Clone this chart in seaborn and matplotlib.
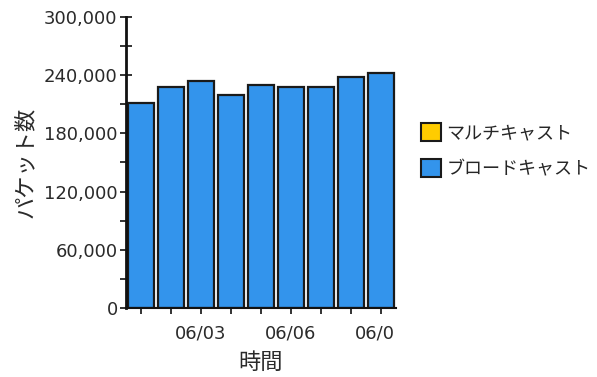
import matplotlib
matplotlib.use("Agg")
import matplotlib.pyplot as plt
import matplotlib.ticker as mticker
import matplotlib.transforms as mtransforms
from matplotlib.patches import Patch
import seaborn as sns
import pandas as pd

# data
dates = ["06/01", "06/02", "06/03", "06/04", "06/05", "06/06", "06/07", "06/08", "06/09"]
broadcast = [211000, 227500, 233700, 219600, 229900, 227500, 227500, 238000, 242000]
multicast = [0, 0, 0, 0, 0, 0, 0, 0, 0]
series_names = ["マルチキャスト", "ブロードキャスト"]
series_colors = ["#FFCC00", "#3394EC"]
y_ticks = [0, 60000, 120000, 180000, 240000, 300000]

sns.set_style("white")
plt.rcParams["font.family"] = ["DejaVu Sans", "Noto Sans CJK JP"]
jp_font = ["Noto Sans CJK JP", "DejaVu Sans"]

df = pd.DataFrame({"date": dates, "broadcast": broadcast, "multicast": multicast})

fig = plt.figure(figsize=(5.97, 3.77), dpi=100)
ax = fig.add_axes([0.211, 0.183, 0.452, 0.772])

sns.barplot(data=df, x="date", y="broadcast", color=series_colors[1],
            saturation=1, width=0.87, edgecolor="#1a1a1a", linewidth=1.6, ax=ax)

ax.set_xlim(-0.5, len(dates) - 0.5)
ax.set_ylim(0, 300000)
ax.set_yticks(y_ticks)
ax.yaxis.set_major_formatter(mticker.FuncFormatter(lambda v, p: f"{int(v):,}"))
ax.yaxis.set_minor_locator(mticker.MultipleLocator(30000))

ax.set_xticks(range(len(dates)))
ax.set_xticklabels([d if i % 3 == 2 else "" for i, d in enumerate(dates)])
# last date label is cut off at the right edge of the plot area, as in the original
clip = mtransforms.TransformedBbox(
    mtransforms.Bbox([[-1, 0], [0.995, 1]]),
    mtransforms.blended_transform_factory(ax.transAxes, fig.transFigure))
for lbl in ax.get_xticklabels():
    lbl.set_clip_box(clip)
    lbl.set_clip_on(True)

for s in ["top", "right"]:
    ax.spines[s].set_visible(False)
ax.spines["left"].set_linewidth(2)
ax.spines["bottom"].set_linewidth(1.5)
ax.spines["left"].set_color("#111111")
ax.spines["bottom"].set_color("#111111")

ax.tick_params(axis="y", which="both", direction="inout", length=8, width=1.2,
               left=True, labelsize=13, labelcolor="#2a2a2a", color="#111111", pad=2)
ax.tick_params(axis="x", which="major", direction="inout", length=8, width=1.2,
               bottom=True, labelsize=13, labelcolor="#2a2a2a", color="#111111", pad=8)

ax.set_xlabel("時間", family=jp_font, fontsize=16, color="#2a2a2a", labelpad=6)
ax.set_ylabel("パケット数", family=jp_font, fontsize=16, color="#2a2a2a", labelpad=5)

handles = [Patch(facecolor=c, edgecolor="#1a1a1a", linewidth=1.5) for c in series_colors]
leg = fig.legend(handles, series_names, loc="center left", bbox_to_anchor=(0.69, 0.6),
                 frameon=False, borderpad=0, handlelength=1.1, handleheight=1.1,
                 handletextpad=0.3, labelspacing=0.95, prop={"family": jp_font, "size": 13})

fig.savefig("out.png", dpi=100)
